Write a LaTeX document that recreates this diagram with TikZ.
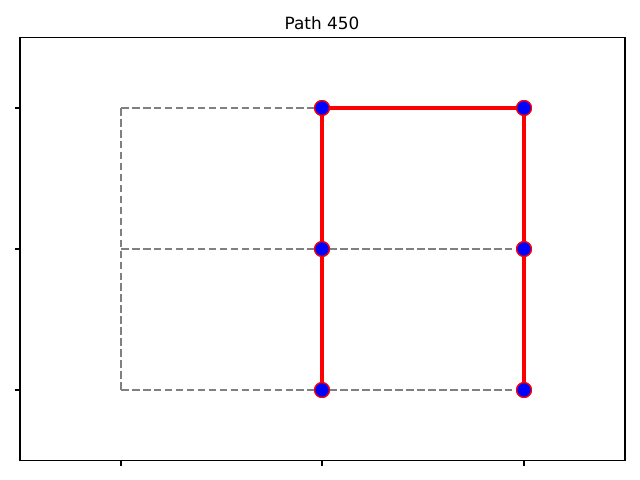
\documentclass[tikz,border=0pt]{standalone}
\usepackage{fontspec}
\setmainfont{DejaVu Sans}
\usetikzlibrary{positioning}
\tikzset{pathnode/.style = {circle, draw=red, fill=blue, line width=0.9pt,
                            inner sep=0, minimum size=0.37cm}}
\tikzset{pathedge/.style = {red, line width=2.2pt}}
\tikzset{gridedge/.style = {gray, line width=1.5pt,
                            dash pattern=on 5.4pt off 2.4pt}}
\tikzset{tick/.style = {black, line width=0.75pt}}
\begin{document}
\begin{tikzpicture}[x=0.025cm, y=-0.025cm]
        \useasboundingbox (0,0) rectangle (640,480);
        % axes frame and title
        \draw[line width=0.8pt] (20,37.5) rectangle (625,460.5);
        \node[font=\fontsize{12}{14}\selectfont] (title) at (322,23) {Path 450};
        % grid points without marker
        \coordinate (c00) at (121,390);
        \coordinate (c01) at (121,249);
        \coordinate (c02) at (121,108);
        % grid points on the path
        \node[pathnode] (c10) at (322,390) {};
        \node[pathnode] (c11) at (322,249) {};
        \node[pathnode] (c12) at (322,108) {};
        \node[pathnode] (c20) at (524,390) {};
        \node[pathnode] (c21) at (524,249) {};
        \node[pathnode] (c22) at (524,108) {};
        % ticks
        \foreach \x in {121,322,524}
          \draw[tick] (\x,460.5) -- (\x,465.5);
        \foreach \y in {108,249,390}
          \draw[tick] (20,\y) -- (15,\y);
        % dashed grid edges
        \draw[gridedge] (c02) -- (c12.center);
        \draw[gridedge] (c02) -- (c00);
        \draw[gridedge] (c01) -- (c21.center);
        \draw[gridedge] (c00) -- (c20.center);
        % path edges
        \draw[pathedge] (c12.center) -- (c22.center);
        \draw[pathedge] (c12.center) -- (c10.center);
        \draw[pathedge] (c22.center) -- (c20.center);
        % markers on top
        \foreach \n in {c10,c11,c12,c20,c21,c22}
          \node[pathnode] at (\n) {};
    \end{tikzpicture}
\end{document}
